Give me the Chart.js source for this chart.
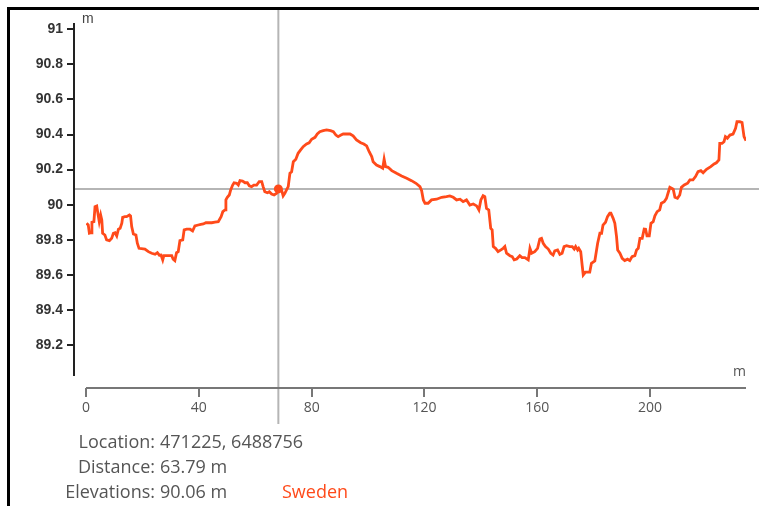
<!DOCTYPE html>
<html><head><meta charset="utf-8">
<script src="https://cdn.jsdelivr.net/npm/chart.js@4.4.1/dist/chart.umd.min.js"></script>
<style>
html,body{margin:0;padding:0;background:#fff;width:759px;height:506px;overflow:hidden;}
#wrap{position:absolute;left:0;top:0;width:759px;height:506px;}
#frame{position:absolute;left:7px;top:7px;width:752px;height:499px;border-top:3px solid #000;border-left:3px solid #000;box-sizing:border-box;pointer-events:none;}
.row{position:absolute;left:0;width:759px;height:25px;font-family:'Open Sans',sans-serif;font-size:18px;line-height:25px;color:#555;white-space:nowrap;}
.row .lab{position:absolute;left:0;width:155px;text-align:right;}
.row .val{position:absolute;left:160px;}
.row .ctry{position:absolute;left:282px;color:#ff4a1a;}
</style>
</head><body>
<div id="wrap"><canvas id="c" width="759" height="506"></canvas></div>
<div id="frame"></div>
<div id="info"></div>
<script>
// ---- data ----
const distances = [0.2,0.8,1.2,1.8,2.1,2.8,3.2,3.8,4.4,4.7,5.2,5.6,5.9,6.7,7.3,8.3,9.1,9.7,10.3,10.9,11.5,12.1,12.7,13.0,13.8,14.4,15.4,15.8,16.2,16.8,17.7,18.2,18.8,20.9,22.1,23.3,24.5,25.3,26.0,26.6,27.2,27.6,28.8,30.4,30.9,31.5,32.1,32.7,33.3,34.3,34.8,35.7,36.9,37.8,38.6,39.8,40.7,41.6,42.5,44.6,45.7,
46.9,47.9,48.5,49.3,49.6,50.1,50.8,51.3,52.0,52.5,53.4,54.0,54.6,55.5,56.4,57.2,57.9,58.7,59.5,60.5,61.4,62.3,62.8,63.4,64.3,65.0,65.8,66.7,67.6,68.4,69.4,69.9,70.5,71.1,71.7,72.3,72.9,73.5,74.4,75.2,76.1,77.0,78.2,79.1,80.0,81.2,82.0,82.9,84.1,85.3,86.7,87.7,88.6,89.4,90.4,91.2,
93.6,94.7,95.9,97.4,98.5,99.5,100.4,101.3,101.8,103.0,104.2,105.2,105.7,106.2,107.1,108.4,110.1,111.9,113.7,115.4,117.0,118.4,119.0,119.6,120.2,121.3,122.5,124.3,126.1,127.8,129.0,130.2,131.4,132.6,133.7,134.9,136.1,137.3,138.5,
139.3,140.0,140.8,141.4,142.0,142.8,143.5,144.0,144.4,145.2,146.1,147.1,147.9,148.5,149.1,150.3,151.1,151.8,152.7,153.8,154.6,155.6,156.8,157.4,158.0,159.1,160.1,160.9,161.5,162.1,162.9,163.9,164.8,165.6,166.2,167.2,168.0,168.8,169.5,170.4,171.5,172.4,173.1,173.6,174.3,174.7,175.4,175.9,176.3,177.1,178.6,179.2,180.4,181.4,182.2,182.8,183.3,184.2,184.9,185.7,
186.1,186.9,187.5,188.1,188.5,189.3,190.1,191.0,192.0,192.8,193.6,194.6,195.2,195.8,196.4,197.2,197.9,198.4,198.9,199.7,200.3,201.1,201.7,202.5,203.4,204.0,205.0,205.8,206.4,207.0,207.6,208.2,208.8,209.7,210.5,211.1,212.1,213.3,214.1,215.2,216.1,217.0,218.0,218.8,220.0,221.5,222.7,223.5,224.4,224.7,225.5,226.2,226.7,227.4,228.3,229.4,230.3,230.8,231.8,232.6,233.3,234.0];

const elevations = [89.894,89.884,89.837,89.840,89.900,89.903,89.989,89.993,89.932,89.903,89.941,89.913,89.837,89.827,89.799,89.795,89.808,89.837,89.840,89.822,89.860,89.865,89.894,89.928,89.932,89.932,89.941,89.936,89.875,89.833,89.827,89.780,89.751,89.747,89.732,89.723,89.717,89.726,89.712,89.713,89.685,89.709,89.709,89.709,89.689,89.681,89.726,89.732,89.795,89.799,89.856,89.860,89.860,89.850,89.879,89.884,89.888,89.890,89.897,89.897,89.900,
89.903,89.932,89.960,89.970,90.027,90.042,90.055,90.084,90.112,90.125,90.122,90.112,90.137,90.135,90.125,90.125,90.108,90.103,90.112,90.112,90.131,90.131,90.103,90.074,90.068,90.074,90.061,90.055,90.065,90.090,90.080,90.050,90.065,90.084,90.103,90.179,90.188,90.245,90.259,90.293,90.312,90.331,90.346,90.353,90.373,90.384,90.403,90.416,90.422,90.426,90.422,90.416,90.397,90.388,90.397,90.403,
90.403,90.392,90.369,90.353,90.346,90.335,90.302,90.274,90.245,90.226,90.217,90.208,90.259,90.217,90.213,90.194,90.179,90.164,90.151,90.137,90.122,90.103,90.080,90.027,90.008,90.008,90.027,90.031,90.042,90.046,90.050,90.042,90.027,90.031,90.017,90.027,89.998,90.004,89.993,
89.970,90.027,90.051,90.046,89.979,89.970,89.865,89.856,89.761,89.751,89.732,89.742,89.751,89.761,89.723,89.709,89.704,89.685,89.690,89.709,89.698,89.698,89.685,89.751,89.723,89.732,89.751,89.804,89.808,89.780,89.761,89.747,89.723,89.713,89.736,89.742,89.717,89.723,89.761,89.766,89.761,89.761,89.747,89.761,89.742,89.751,89.732,89.656,89.599,89.615,89.615,89.666,89.679,89.780,89.837,89.837,89.884,89.900,89.932,89.951,
89.951,89.922,89.894,89.818,89.742,89.723,89.694,89.681,89.689,89.681,89.704,89.709,89.742,89.751,89.808,89.808,89.861,89.860,89.822,89.822,89.894,89.903,89.936,89.960,89.970,90.008,90.017,90.036,90.068,90.099,90.094,90.088,90.042,90.036,90.055,90.099,90.112,90.122,90.141,90.141,90.160,90.188,90.194,90.182,90.202,90.217,90.232,90.239,90.255,90.350,90.350,90.359,90.388,90.379,90.397,90.403,90.436,90.473,90.473,90.468,90.388,90.365];

const xTicks = [0, 40, 80, 120, 160, 200];
const xTickLabels = ["0", "40", "80", "120", "160", "200"];
const yTicks = [89.2, 89.4, 89.6, 89.8, 90, 90.2, 90.4, 90.6, 90.8, 91];
const yTickLabels = ["89.2", "89.4", "89.6", "89.8", "90", "90.2", "90.4", "90.6", "90.8", "91"];

const markerDistance = 68.2;
const markerElevation = 90.09;

const infoLabels = ["Location:", "Distance:", "Elevations:"];
const infoValues = ["471225, 6488756", "63.79 m", "90.06 m"];
const countryName = "Sweden";
const unitLabel = "m";

// ---- info text ----
const info = document.getElementById('info');
infoLabels.forEach((lab, i) => {
  const r = document.createElement('div');
  r.className = 'row';
  r.style.top = (429 + i * 24.8) + 'px';
  r.innerHTML = '<span class="lab"></span><span class="val"></span>' + (i === 2 ? '<span class="ctry"></span>' : '');
  r.querySelector('.lab').textContent = lab;
  r.querySelector('.val').textContent = infoValues[i];
  if (i === 2) r.querySelector('.ctry').textContent = countryName;
  info.appendChild(r);
});

// ---- chart ----
const lineColor = '#ff4a1a';
const profilePoints = distances.map((d, i) => ({ x: d, y: elevations[i] }));

const axesPlugin = {
  id: 'customAxes',
  beforeDatasetsDraw(chart) {
    const { ctx, scales: { x, y } } = chart;
    const px = x.getPixelForValue(markerDistance);
    const py = y.getPixelForValue(markerElevation);
    ctx.save();
    ctx.strokeStyle = '#b5b5b5';
    ctx.lineWidth = 2;
    ctx.beginPath();
    ctx.moveTo(px, 10); ctx.lineTo(px, 424);
    ctx.moveTo(chart.chartArea.left - 12, py); ctx.lineTo(759, py);
    ctx.stroke();
    ctx.restore();
  },
  afterDraw(chart) {
    const { ctx, chartArea, scales: { x, y } } = chart;
    ctx.save();
    // y axis
    const ax = chartArea.left - 12;
    ctx.strokeStyle = '#222';
    ctx.lineWidth = 2;
    ctx.beginPath();
    ctx.moveTo(ax, chartArea.top); ctx.lineTo(ax, chartArea.bottom);
    yTicks.forEach(v => { const p = Math.round(y.getPixelForValue(v)); ctx.moveTo(ax - 7, p); ctx.lineTo(ax, p); });
    ctx.stroke();
    // x axis
    const ay = chartArea.bottom + 12;
    ctx.strokeStyle = '#777';
    ctx.beginPath();
    ctx.moveTo(chartArea.left, ay); ctx.lineTo(chartArea.right, ay);
    xTicks.forEach(v => { const p = Math.round(x.getPixelForValue(v)); ctx.moveTo(p, ay); ctx.lineTo(p, ay + 9); });
    ctx.stroke();
    // unit labels
    ctx.fillStyle = '#444';
    ctx.font = '14px "Liberation Sans", Arial, sans-serif';
    ctx.textAlign = 'left'; ctx.textBaseline = 'alphabetic';
    ctx.fillText(unitLabel, ax + 8, chartArea.top);
    ctx.fillStyle = '#555';
    ctx.font = '14px "Open Sans", sans-serif';
    ctx.textAlign = 'right';
    ctx.fillText(unitLabel, chartArea.right, chartArea.bottom);
    ctx.restore();
  }
};

new Chart(document.getElementById('c'), {
  type: 'line',
  data: {
    datasets: [
      { data: [{ x: markerDistance, y: markerElevation }], showLine: false, pointRadius: 4.5, pointBackgroundColor: lineColor, pointBorderWidth: 0, order: 0 },
      { data: profilePoints, borderColor: lineColor, borderWidth: 2.8, pointRadius: 0, tension: 0, fill: false, order: 1 }
    ]
  },
  options: {
    responsive: false,
    animation: false,
    devicePixelRatio: 1,
    events: [],
    layout: { padding: { left: 0, top: 23, right: 13, bottom: 0 } },
    plugins: { legend: { display: false }, tooltip: { enabled: false } },
    scales: {
      x: {
        type: 'linear', min: 0, max: 234,
        afterFit(s) { s.height = 130; s.paddingLeft = 0; s.paddingRight = 0; },
        afterBuildTicks(s) { s.ticks = xTicks.map(v => ({ value: v })); },
        grid: { display: false, drawTicks: false },
        border: { display: false },
        ticks: { padding: 24, color: '#555', font: { family: 'Open Sans', size: 14 }, maxRotation: 0, autoSkip: false,
          callback: (v) => xTickLabels[xTicks.indexOf(v)] }
      },
      y: {
        type: 'linear', min: 89.023, max: 91.036,
        afterFit(s) { s.width = 86; s.paddingTop = 0; s.paddingBottom = 0; },
        afterBuildTicks(s) { s.ticks = yTicks.map(v => ({ value: v })); },
        grid: { display: false, drawTicks: false },
        border: { display: false },
        ticks: { padding: 23, color: '#333', font: { family: 'Liberation Sans', size: 14, weight: 'bold' }, autoSkip: false,
          callback: (v) => yTickLabels[yTicks.indexOf(v)] }
      }
    }
  },
  plugins: [axesPlugin]
});
</script>
</body></html>
